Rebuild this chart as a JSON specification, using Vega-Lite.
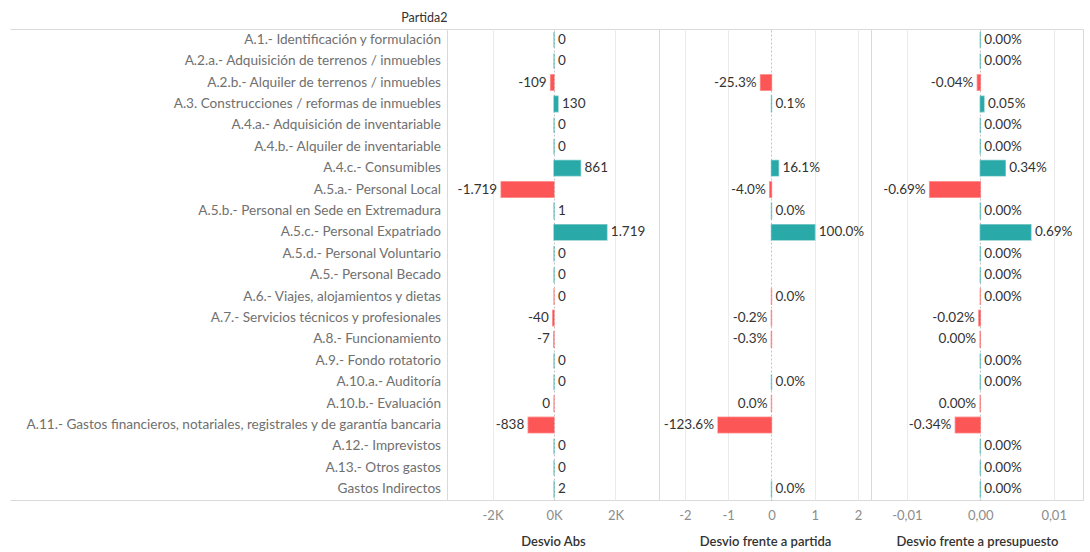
{
  "$schema": "https://vega.github.io/schema/vega-lite/v6.json",
  "padding": {"left": 10, "top": 11, "right": 5, "bottom": 0},
  "background": "white",
  "spacing": 0,
  "bounds": "flush",
  "config": {
    "font": "Lato",
    "locale": {"number": {"decimal": ".", "thousands": ".", "grouping": [3], "currency": ["", ""], "minus": "-"}},
    "view": {"stroke": "#d9d9d9"},
    "axis": {
      "ticks": false,
      "domain": false,
      "labelColor": "#8c8c8c",
      "labelFontSize": 13,
      "labelPadding": 9,
      "titleColor": "#333333",
      "titleFontSize": 13,
      "titleFontWeight": 600,
      "titlePadding": 13
    }
  },
  "data": {
    "values": [
      {"partida": "A.1.- Identificación y formulación", "abs": 0, "pct_partida": null, "pct_pres": 0, "signo": "pos"},
      {"partida": "A.2.a.- Adquisición de  terrenos / inmuebles", "abs": 0, "pct_partida": null, "pct_pres": 0, "signo": "pos"},
      {"partida": "A.2.b.- Alquiler de terrenos / inmuebles", "abs": -109, "pct_partida": -0.253, "pct_pres": -0.0004, "signo": "neg"},
      {"partida": "A.3. Construcciones / reformas de inmuebles", "abs": 130, "pct_partida": 0.001, "pct_pres": 0.0005, "signo": "pos"},
      {"partida": "A.4.a.- Adquisición de inventariable", "abs": 0, "pct_partida": null, "pct_pres": 0, "signo": "pos"},
      {"partida": "A.4.b.- Alquiler de inventariable", "abs": 0, "pct_partida": null, "pct_pres": 0, "signo": "pos"},
      {"partida": "A.4.c.- Consumibles", "abs": 861, "pct_partida": 0.161, "pct_pres": 0.0034, "signo": "pos"},
      {"partida": "A.5.a.- Personal Local", "abs": -1719, "pct_partida": -0.04, "pct_pres": -0.0069, "signo": "neg"},
      {"partida": "A.5.b.- Personal en Sede en Extremadura", "abs": 1, "pct_partida": 0.0002, "pct_pres": 0.00001, "signo": "pos"},
      {"partida": "A.5.c.- Personal Expatriado", "abs": 1719, "pct_partida": 1.0, "pct_pres": 0.0069, "signo": "pos"},
      {"partida": "A.5.d.- Personal Voluntario", "abs": 0, "pct_partida": null, "pct_pres": 0, "signo": "pos"},
      {"partida": "A.5.- Personal Becado", "abs": 0, "pct_partida": null, "pct_pres": 0, "signo": "pos"},
      {"partida": "A.6.- Viajes, alojamientos y dietas", "abs": 0.2, "pct_partida": 0.0001, "pct_pres": 0.000001, "signo": "neg"},
      {"partida": "A.7.- Servicios técnicos y profesionales", "abs": -40, "pct_partida": -0.002, "pct_pres": -0.0002, "signo": "neg"},
      {"partida": "A.8.- Funcionamiento", "abs": -7, "pct_partida": -0.003, "pct_pres": -0.00003, "signo": "neg"},
      {"partida": "A.9.- Fondo rotatorio", "abs": 0, "pct_partida": null, "pct_pres": 0, "signo": "pos"},
      {"partida": "A.10.a.- Auditoría", "abs": 0, "pct_partida": 0, "pct_pres": 0, "signo": "pos"},
      {"partida": "A.10.b.- Evaluación", "abs": -0.3, "pct_partida": -0.0002, "pct_pres": -0.00002, "signo": "neg"},
      {"partida": "A.11.- Gastos financieros, notariales, registrales y de garantía bancaria", "abs": -838, "pct_partida": -1.236, "pct_pres": -0.0034, "signo": "neg"},
      {"partida": "A.12.- Imprevistos", "abs": 0, "pct_partida": null, "pct_pres": 0, "signo": "pos"},
      {"partida": "A.13.- Otros gastos", "abs": 0, "pct_partida": null, "pct_pres": 0, "signo": "pos"},
      {"partida": "Gastos Indirectos", "abs": 2, "pct_partida": 0.0001, "pct_pres": 0.00001, "signo": "pos"}
    ]
  },
  "hconcat": [
    {
      "width": 437,
      "height": 471,
      "view": {"stroke": null},
      "layer": [
        {
          "mark": {"type": "text", "align": "right", "dx": -6, "fontSize": 13.6, "color": "#707070"},
          "encoding": {
            "y": {"field": "partida", "type": "nominal", "sort": null, "axis": null, "scale": {"paddingInner": 0.28, "paddingOuter": 0.14}},
            "x": {"datum": 1, "type": "quantitative", "scale": {"domain": [0, 1], "nice": false},
                  "axis": {"orient": "top", "title": "Partida2", "labels": false, "ticks": false, "grid": false, "domain": true, "domainColor": "#d9d9d9", "titleAnchor": "end", "titleAlign": "right", "titleFontWeight": "normal", "titleFontSize": 12.5, "titlePadding": 5}},
            "text": {"field": "partida"}
          }
        },
        {
          "mark": {"type": "text", "opacity": 0},
          "encoding": {
            "y": {"field": "partida", "type": "nominal", "sort": null, "axis": null, "scale": {"paddingInner": 0.28, "paddingOuter": 0.14}},
            "x": {"datum": 1, "type": "quantitative", "axis": {"orient": "bottom", "title": null, "labels": false, "ticks": false, "grid": false, "domain": true, "domainColor": "#d9d9d9"}},
            "text": {"field": "partida"}
          }
        }
      ]
    },
    {
      "width": 212,
      "height": 471,
      "layer": [
        {
          "mark": {"type": "bar", "strokeWidth": 1.5, "strokeOpacity": 0.55},
          "encoding": {
            "y": {"field": "partida", "type": "nominal", "sort": null, "axis": null, "scale": {"paddingInner": 0.28, "paddingOuter": 0.14}},
            "x": {"field": "abs", "type": "quantitative", "stack": null,
                  "scale": {"domain": [-3480, 3415], "nice": false, "zero": false},
                  "axis": {"title": "Desvio Abs", "values": [-2000, 0, 2000], "labelExpr": "datum.value / 1000 + 'K'",
                           "gridColor": {"condition": {"test": "datum.value === 0", "value": "#c4c4c4"}, "value": "#ebebeb"},
                           "gridDash": {"condition": {"test": "datum.value === 0", "value": [2, 2]}, "value": []}}},
            "color": {"field": "signo", "type": "nominal", "scale": {"domain": ["pos", "neg"], "range": ["#2aa9a9", "#fd5656"]}, "legend": null},
            "stroke": {"field": "signo", "type": "nominal", "scale": {"domain": ["pos", "neg"], "range": ["#2aa9a9", "#fd5656"]}, "legend": null}
          }
        },
        {
          "mark": {"type": "text", "fontSize": 13.5, "color": "#333333",
                   "align": {"expr": "datum.abs < 0 ? 'right' : 'left'"},
                   "dx": {"expr": "datum.abs < 0 ? -4 : 4"}},
          "encoding": {
            "y": {"field": "partida", "type": "nominal", "sort": null, "axis": null},
            "x": {"field": "abs", "type": "quantitative"},
            "text": {"field": "abs", "type": "quantitative", "format": ",.0f"}
          }
        }
      ]
    },
    {
      "width": 212,
      "height": 471,
      "layer": [
        {
          "mark": {"type": "bar", "strokeWidth": 1.5, "strokeOpacity": 0.55},
          "encoding": {
            "y": {"field": "partida", "type": "nominal", "sort": null, "axis": null,
                  "scale": {"paddingInner": 0.28, "paddingOuter": 0.14,
                            "domain": ["A.1.- Identificación y formulación", "A.2.a.- Adquisición de  terrenos / inmuebles", "A.2.b.- Alquiler de terrenos / inmuebles", "A.3. Construcciones / reformas de inmuebles", "A.4.a.- Adquisición de inventariable", "A.4.b.- Alquiler de inventariable", "A.4.c.- Consumibles", "A.5.a.- Personal Local", "A.5.b.- Personal en Sede en Extremadura", "A.5.c.- Personal Expatriado", "A.5.d.- Personal Voluntario", "A.5.- Personal Becado", "A.6.- Viajes, alojamientos y dietas", "A.7.- Servicios técnicos y profesionales", "A.8.- Funcionamiento", "A.9.- Fondo rotatorio", "A.10.a.- Auditoría", "A.10.b.- Evaluación", "A.11.- Gastos financieros, notariales, registrales y de garantía bancaria", "A.12.- Imprevistos", "A.13.- Otros gastos", "Gastos Indirectos"]}},
            "x": {"field": "pct_partida", "type": "quantitative", "stack": null,
                  "scale": {"domain": [-2.6, 2.3], "nice": false, "zero": false},
                  "axis": {"title": "Desvio frente a partida", "values": [-2, -1, 0, 1, 2], "format": "d",
                           "gridColor": {"condition": {"test": "datum.value === 0", "value": "#c4c4c4"}, "value": "#ebebeb"},
                           "gridDash": {"condition": {"test": "datum.value === 0", "value": [2, 2]}, "value": []}}},
            "color": {"field": "signo", "type": "nominal", "scale": {"domain": ["pos", "neg"], "range": ["#2aa9a9", "#fd5656"]}, "legend": null},
            "stroke": {"field": "signo", "type": "nominal", "scale": {"domain": ["pos", "neg"], "range": ["#2aa9a9", "#fd5656"]}, "legend": null}
          }
        },
        {
          "mark": {"type": "text", "fontSize": 13.5, "color": "#333333",
                   "align": {"expr": "datum.pct_partida < 0 ? 'right' : 'left'"},
                   "dx": {"expr": "datum.pct_partida < 0 ? -4 : 4"}},
          "encoding": {
            "y": {"field": "partida", "type": "nominal", "sort": null, "axis": null},
            "x": {"field": "pct_partida", "type": "quantitative"},
            "text": {"field": "pct_partida", "type": "quantitative", "format": ".1%"}
          }
        }
      ]
    },
    {
      "width": 212,
      "height": 471,
      "layer": [
        {
          "mark": {"type": "bar", "strokeWidth": 1.5, "strokeOpacity": 0.55},
          "encoding": {
            "y": {"field": "partida", "type": "nominal", "sort": null, "axis": null, "scale": {"paddingInner": 0.28, "paddingOuter": 0.14}},
            "x": {"field": "pct_pres", "type": "quantitative", "stack": null,
                  "scale": {"domain": [-0.0149, 0.014], "nice": false, "zero": false},
                  "axis": {"title": "Desvio frente a presupuesto", "values": [-0.01, 0, 0.01],
                           "labelExpr": "replace(replace(format(datum.value, '.2f'), '.', ','), '−', '-')",
                           "gridColor": {"condition": {"test": "datum.value === 0", "value": "#c4c4c4"}, "value": "#ebebeb"},
                           "gridDash": {"condition": {"test": "datum.value === 0", "value": [2, 2]}, "value": []}}},
            "color": {"field": "signo", "type": "nominal", "scale": {"domain": ["pos", "neg"], "range": ["#2aa9a9", "#fd5656"]}, "legend": null},
            "stroke": {"field": "signo", "type": "nominal", "scale": {"domain": ["pos", "neg"], "range": ["#2aa9a9", "#fd5656"]}, "legend": null}
          }
        },
        {
          "mark": {"type": "text", "fontSize": 13.5, "color": "#333333",
                   "align": {"expr": "datum.pct_pres < 0 ? 'right' : 'left'"},
                   "dx": {"expr": "datum.pct_pres < 0 ? -4 : 4"}},
          "encoding": {
            "y": {"field": "partida", "type": "nominal", "sort": null, "axis": null},
            "x": {"field": "pct_pres", "type": "quantitative"},
            "text": {"field": "pct_pres", "type": "quantitative", "format": ".2%"}
          }
        }
      ]
    }
  ]
}
